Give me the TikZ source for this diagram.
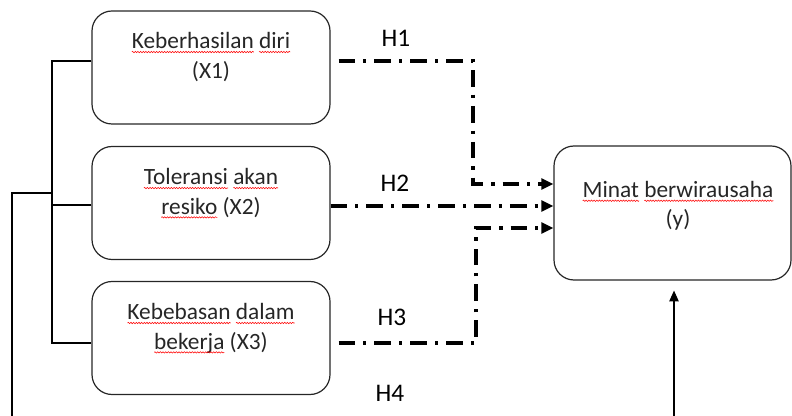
\documentclass[tikz,border=0pt]{standalone}
\usepackage{fontspec}
\setmainfont{Carlito}
\usetikzlibrary{arrows.meta,decorations.pathmorphing}
\newcommand{\sq}[1]{\tikz[baseline=(w.base)]{\node[inner sep=0pt,outer sep=0pt,text depth=2.4pt] (w) {#1};
    \draw[overlay,red,line width=0.4pt,decorate,decoration={snake,amplitude=0.5pt,segment length=2pt}] (w.south west) -- (w.south east);}}

\begin{document}
\begin{tikzpicture}[x=0.75pt,y=0.75pt,yscale=-1,xscale=1,
    varbox/.style={draw=black!85,line width=0.9pt,rounded corners=15pt,inner sep=0pt,minimum width=178.5pt,minimum height=84.75pt},
    vartext/.style={align=center,text=black!85,font=\fontsize{17.5}{22}\selectfont},
    hyp/.style={line width=2.4pt,dash pattern=on 12.5pt off 6pt on 2.4pt off 6pt},
    hlabel/.style={font=\fontsize{19}{22}\selectfont}]
    \useasboundingbox (0,0) rectangle (792,416);
    %Shape: Rectangle [id:x1] 
    \node [varbox] (x1) at (211,67.5) {};
    %Shape: Rectangle [id:x2] 
    \node [varbox] (x2) at (211,203) {};
    %Shape: Rectangle [id:x3] 
    \node [varbox] (x3) at (211,338) {};
    %Shape: Rectangle [id:y] 
    \node [varbox,minimum width=177.75pt,minimum height=100.5pt] (y) at (672.5,213) {};

    % Text Node
    \node [vartext] (t1) at (211,57) {\sq{Keberhasilan} \sq{diri}\\(X1)};
    % Text Node
    \node [vartext] (t2) at (211,193) {\sq{Toleransi} \sq{akan}\\\sq{resiko} (X2)};
    % Text Node
    \node [vartext] (t3) at (211,328) {\sq{Kebebasan} \sq{dalam}\\\sq{bekerja} (X3)};
    % Text Node
    \node [vartext] (ty) at (678,206) {\sq{Minat} \sq{berwirausaha}\\(y)};

    %Straight Lines [id:bracket] 
    \coordinate (br) at (52,193);
    \draw [line width=0.8pt] (x1.west |- 0,61) -- (52,61) |- (x3.west |- 0,343);
    \draw [line width=0.8pt] (x2.west |- 0,205) -- (52,205);
    %Straight Lines [id:h4] 
    \draw [line width=0.8pt,-{Triangle[length=8pt,width=7pt]},shorten >=7.5pt] (br) -- (12,193) |- (674,440) -- (y.south -| 674,0);

    %Straight Lines [id:h1] 
    \draw [hyp,-{Triangle[length=9pt,width=8pt]}] ([xshift=6pt]x1.east |- 0,61) -- (473,61) -- (473,184) -- (y.west |- 0,184);
    %Straight Lines [id:h2] 
    \draw [hyp,-{Triangle[length=9pt,width=8pt]}] (x2.east |- 0,206) -- (y.west |- 0,206);
    %Straight Lines [id:h3] 
    \draw [hyp,-{Triangle[length=9pt,width=8pt]}] ([xshift=6pt]x3.east |- 0,343) -- (476,343) -- (476,228) -- (y.west |- 0,228);

    % Text Node
    \node [hlabel] (l1) at (396,38) {H1};
    % Text Node
    \node [hlabel] (l2) at (395,183) {H2};
    % Text Node
    \node [hlabel] (l3) at (392,317) {H3};
    % Text Node
    \node [hlabel] (l4) at (390,393) {H4};
\end{tikzpicture}
\end{document}
